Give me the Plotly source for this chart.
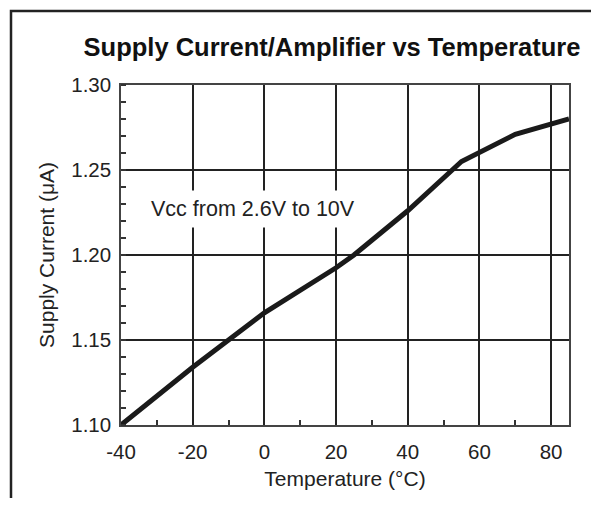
import plotly.graph_objects as go

temps = [-40, -20, -10, 0, 20, 25, 40, 55, 70, 85]
current_uA = [1.100, 1.134, 1.150, 1.166, 1.1925, 1.200, 1.226, 1.255, 1.271, 1.280]

x_ticks = [-40, -20, 0, 20, 40, 60, 80]
x_tick_text = ["-40", "-20", "0", "20", "40", "60", "80"]
y_ticks = [1.10, 1.15, 1.20, 1.25, 1.30]
y_tick_text = ["1.10", "1.15", "1.20", "1.25", "1.30"]

FONT = "Liberation Sans, Arial, sans-serif"

W, H = 591, 490
L, R, T, B = 113, 30, 77, 73
PW, PH = W - L - R, H - T - B

fig = go.Figure()
fig.add_trace(go.Scatter(x=temps, y=current_uA, mode="lines",
                         line=dict(color="#1a1a1a", width=5), showlegend=False))

fig.update_layout(
    width=W, height=H,
    margin=dict(l=L, r=R, t=T, b=B),
    paper_bgcolor="white", plot_bgcolor="white",
    font=dict(family=FONT, color="#222"),
    title=dict(text="<b>Supply Current/Amplifier vs Temperature</b>",
               font=dict(size=25.5, color="#111", family=FONT),
               x=0.471, xref="paper", xanchor="center",
               y=1 - 39 / H, yref="container", yanchor="middle"),
    xaxis=dict(range=[-40, 85], tickvals=x_ticks, ticktext=x_tick_text, ticks="",
               showgrid=True, gridcolor="#222", gridwidth=1.5,
               showline=True, linecolor="#444", linewidth=1.5, mirror=True,
               zeroline=False, tickfont=dict(size=20.5, color="#222"),
               ticklabelstandoff=8,
               minor=dict(tickvals=[-30, -10, 10, 30, 50, 70], ticks="inside",
                          ticklen=5, tickcolor="#333", tickwidth=1.5, showgrid=False),
               title=dict(text="Temperature (°C)", font=dict(size=21, color="#222"), standoff=9)),
    yaxis=dict(range=[1.10, 1.30], tickvals=y_ticks, ticktext=y_tick_text, ticks="",
               showgrid=True, gridcolor="#222", gridwidth=1.5,
               showline=True, linecolor="#444", linewidth=1.5, mirror=True,
               zeroline=False, tickfont=dict(size=20.5, color="#222"),
               ticklabelstandoff=4,
               minor=dict(dtick=0.01, tick0=1.10, ticks="inside", ticklen=5,
                          tickcolor="#333", tickwidth=1.5, showgrid=False),
               title=dict(text="Supply Current (μA)", font=dict(size=21, color="#222"), standoff=11)),
)

fig.add_annotation(x=-3.2, y=1.227, xref="x", yref="y",
                   text="Vcc from 2.6V to 10V", showarrow=False,
                   font=dict(size=21.5, color="#222", family=FONT),
                   bgcolor="white", borderpad=6)

# outer frame drawn with pixel-sized paper coordinates
def px_x(px):
    return (px - L) / PW

def px_y(py):
    return (T + PH - py) / PH

frame_path = "M {x0},{yb} L {x0},{yt} L {x1},{yt} L {x1},{yb}".format(
    x0=px_x(3), x1=px_x(586), yt=px_y(3), yb=px_y(H + 10))
fig.add_shape(type="path", xref="paper", yref="paper", path=frame_path,
              line=dict(color="#222", width=2.5), layer="above")

fig.write_html("out.html")
